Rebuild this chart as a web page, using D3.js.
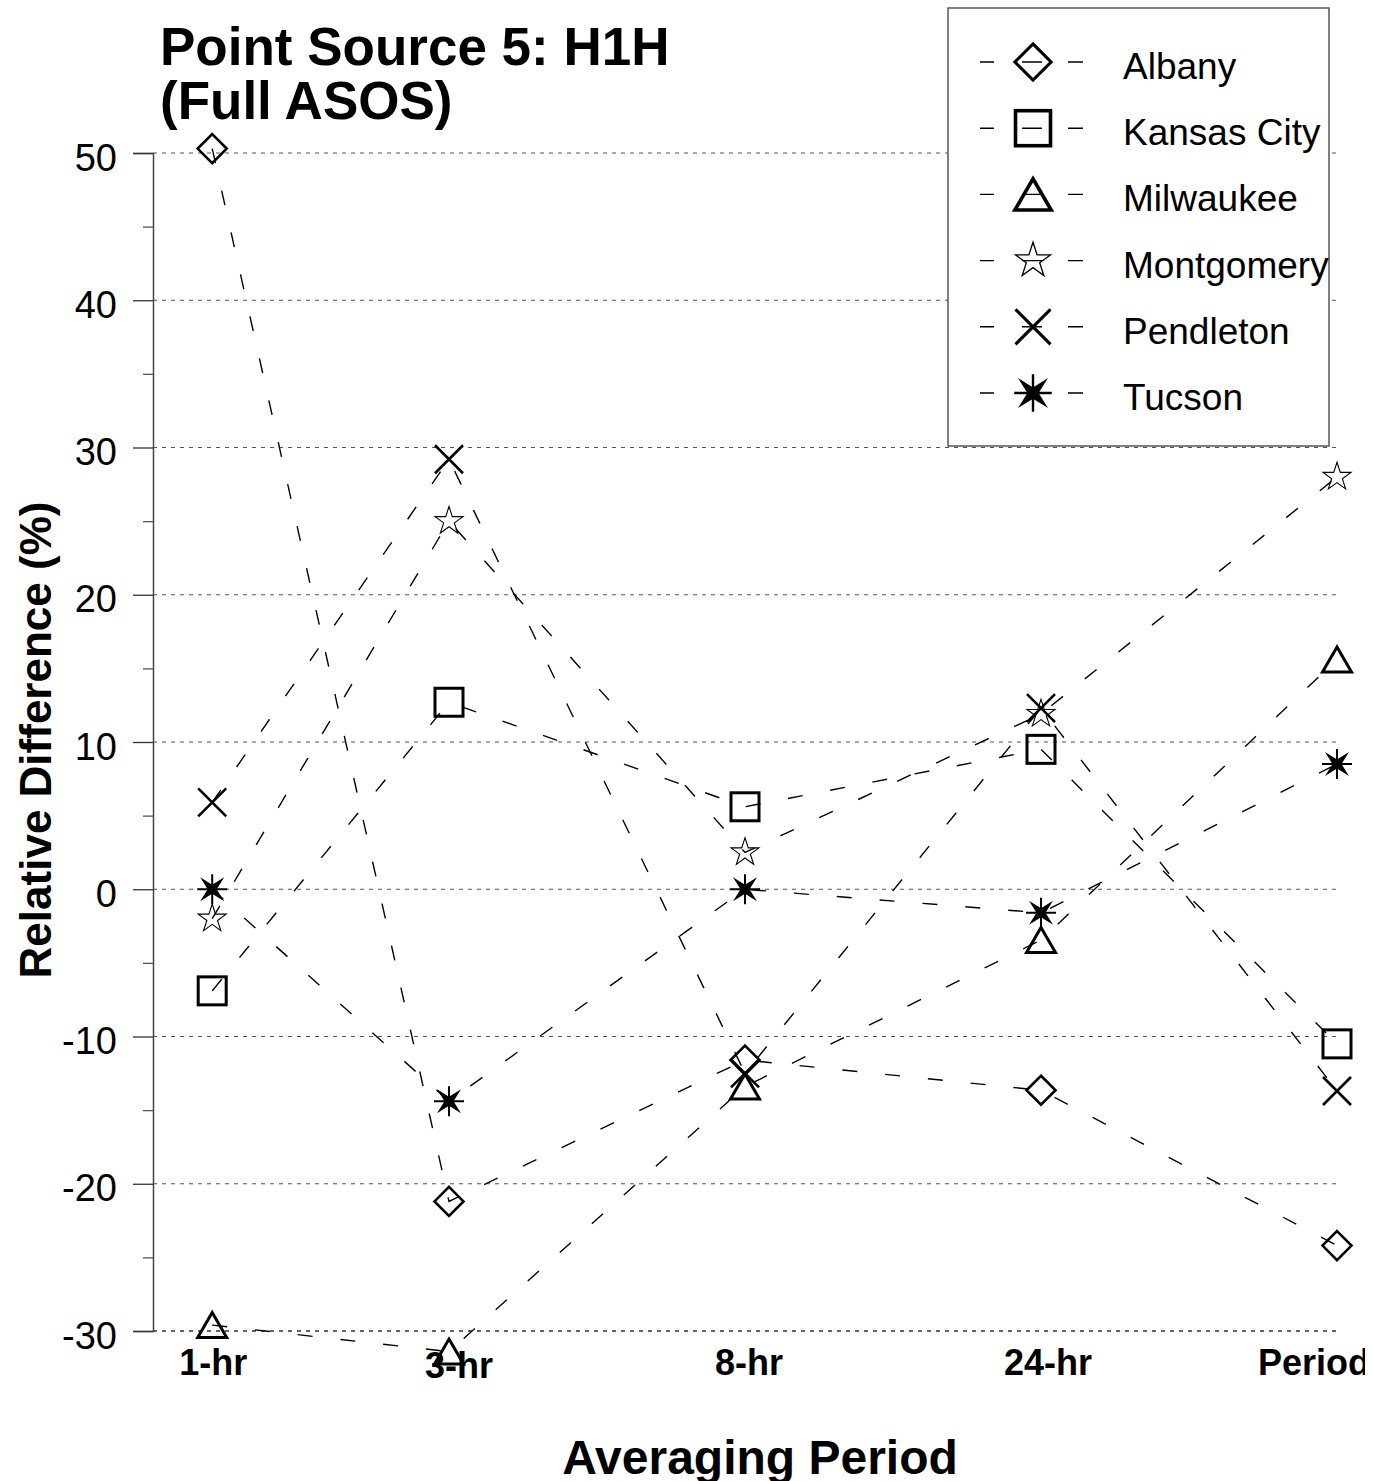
<!DOCTYPE html>
<html>
<head>
<meta charset="utf-8">
<script src="https://cdn.jsdelivr.net/npm/d3@7"></script>
<style>
  body { margin: 0; background: #fff; }
  svg { display: block; font-family: "Liberation Sans", Arial, sans-serif; }
</style>
</head>
<body>
<svg id="chart" width="1365" height="1481"></svg>
<script>
// data
var periods = ["1-hr", "3-hr", "8-hr", "24-hr", "Period"];
var periodPos = [0.2, 1, 2, 3, 4];
var stations = ["Albany", "Kansas City", "Milwaukee", "Montgomery", "Pendleton", "Tucson"];
var albany     = [50.3, -21.2, -11.6, -13.65, -24.2];
var kansasCity = [-6.9, 12.7, 5.6, 9.5, -10.5];
var milwaukee  = [-29.6, -31.4, -13.4, -3.45, 15.6];
var montgomery = [-2.0, 25.0, 2.5, 11.9, 28.0];
var pendleton  = [5.9, 29.2, -12.5, 12.3, -13.7];
var tucson     = [0, -14.4, 0, -1.6, 8.5];
var yTicks = [50, 40, 30, 20, 10, 0, -10, -20, -30];
var yMinor = [45, 35, 25, 15, 5, -5, -15, -25];

var series = [
  {name: stations[0], values: albany, shape: "diamond"},
  {name: stations[1], values: kansasCity, shape: "square"},
  {name: stations[2], values: milwaukee, shape: "triangle"},
  {name: stations[3], values: montgomery, shape: "star"},
  {name: stations[4], values: pendleton, shape: "cross"},
  {name: stations[5], values: tucson, shape: "burst"}
];

var svg = d3.select("#chart");
var margin = {left: 153, right: 1337, top: 153, bottom: 1331};

var x = d3.scaleLinear().domain([0, 4]).range([margin.left, margin.right]);
var y = d3.scaleLinear().domain([-30, 50]).range([margin.bottom, margin.top]);

// grid
svg.append("g")
  .selectAll("line")
  .data(yTicks)
  .join("line")
    .attr("x1", margin.left).attr("x2", 1336)
    .attr("y1", d => y(d)).attr("y2", d => y(d))
    .attr("stroke", d => d == -30 ? "#333" : "#555")
    .attr("stroke-width", d => d == -30 ? 1.6 : 1.1)
    .attr("stroke-dasharray", "4,5");

// y axis
var yAxis = svg.append("g")
  .attr("transform", "translate(" + margin.left + ",0)")
  .call(d3.axisLeft(y).tickValues(yTicks).tickSize(20).tickPadding(16).tickFormat(d => String(d)));
yAxis.select(".domain").attr("stroke", "#444").attr("stroke-width", 1.5);
yAxis.selectAll(".tick line").attr("stroke", "#333").attr("stroke-width", 1.3);
yAxis.selectAll("text")
  .attr("font-size", 38)
  .attr("font-family", "Liberation Sans, Arial, sans-serif")
  .attr("fill", "#000")
  .attr("dy", "0.45em");

svg.append("g")
  .attr("transform", "translate(" + margin.left + ",0)")
  .call(d3.axisLeft(y).tickValues(yMinor).tickSize(10).tickFormat(""))
  .call(g => g.select(".domain").remove())
  .selectAll(".tick line").attr("stroke", "#555").attr("stroke-width", 1.3);

// x labels
var labelDx = [1, 10, 4, 7, -23];
var labelDy = [0, 3, 0, 0, 0];
svg.append("g")
  .selectAll("text")
  .data(periods)
  .join("text")
    .attr("x", (d, i) => x(periodPos[i]) + labelDx[i])
    .attr("y", (d, i) => 1375 + labelDy[i])
    .attr("text-anchor", "middle")
    .attr("font-size", 36)
    .attr("font-weight", "bold")
    .text(d => d);

// titles
svg.append("text")
  .attr("x", 160).attr("y", 65)
  .attr("font-size", 53).attr("font-weight", "bold")
  .text("Point Source 5: H1H");
svg.append("text")
  .attr("x", 160).attr("y", 119)
  .attr("font-size", 53).attr("font-weight", "bold")
  .text("(Full ASOS)");

svg.append("text")
  .attr("transform", "translate(51,740) rotate(-90)")
  .attr("text-anchor", "middle")
  .attr("font-size", 44).attr("font-weight", "bold")
  .text("Relative Difference (%)");

svg.append("text")
  .attr("x", 760).attr("y", 1474)
  .attr("text-anchor", "middle")
  .attr("font-size", 48).attr("font-weight", "bold")
  .text("Averaging Period");

// marker shapes, k scales the size, sw the stroke
function marker(g, shape, k, sw) {
  if (shape == "diamond") {
    var r = 14.5 * k;
    g.append("path")
      .attr("d", "M0," + (-r) + "L" + r + ",0L0," + r + "L" + (-r) + ",0Z")
      .attr("fill", "none").attr("stroke", "#000").attr("stroke-width", 2.6 * sw);
  } else if (shape == "square") {
    var s = 14 * k;
    g.append("rect")
      .attr("x", -s).attr("y", -s).attr("width", 2 * s).attr("height", 2 * s)
      .attr("fill", "none").attr("stroke", "#000").attr("stroke-width", 3 * sw);
  } else if (shape == "triangle") {
    var w = 14.5 * k, h = 12.5 * k;
    g.append("path")
      .attr("d", "M0," + (-h) + "L" + w + "," + h + "L" + (-w) + "," + h + "Z")
      .attr("fill", "none").attr("stroke", "#000").attr("stroke-width", 3 * sw);
  } else if (shape == "star") {
    var R = 14.7 * k, ri = R * 0.382, pts = [];
    for (var i = 0; i < 10; i++) {
      var a = -Math.PI / 2 + i * Math.PI / 5, rr = i % 2 ? ri : R;
      pts.push([rr * Math.cos(a), rr * Math.sin(a)]);
    }
    g.append("path")
      .attr("d", "M" + pts.join("L") + "Z")
      .attr("fill", "none").attr("stroke", "#000").attr("stroke-width", 1.1 * sw);
  } else if (shape == "cross") {
    var c = 14 * k;
    g.append("path")
      .attr("d", "M" + (-c) + "," + (-c) + "L" + c + "," + c + "M" + (-c) + "," + c + "L" + c + "," + (-c))
      .attr("stroke", "#000").attr("stroke-width", 2.6 * sw);
  } else if (shape == "burst") {
    var L = 15 * k, o = 12 * k, inr = 4.5 * k, pts2 = [];
    for (var j = 0; j < 8; j++) {
      var b = -Math.PI / 4 + j * Math.PI / 4;
      var rad = j % 2 ? inr : o * Math.SQRT2;
      pts2.push([rad * Math.cos(b), rad * Math.sin(b)]);
    }
    g.append("path").attr("d", "M" + pts2.join("L") + "Z").attr("fill", "#000");
    g.append("path")
      .attr("d", "M" + (-L) + ",0L" + L + ",0M0," + (-L) + "L0," + L)
      .attr("stroke", "#000").attr("stroke-width", 2 * sw);
  }
}

// series lines
var line = d3.line()
  .x((d, i) => x(periodPos[i]))
  .y(d => y(d));

svg.append("g")
  .selectAll("path")
  .data(series)
  .join("path")
    .attr("d", d => line(d.values))
    .attr("fill", "none")
    .attr("stroke", "#000")
    .attr("stroke-width", 1.4)
    .attr("stroke-dasharray", "15,28");

// markers
series.forEach(function(s) {
  s.values.forEach(function(v, i) {
    var g = svg.append("g")
      .attr("transform", "translate(" + x(periodPos[i]) + "," + y(v) + ")");
    marker(g, s.shape, 1, 1);
  });
});

// legend
var legend = svg.append("g");
legend.append("rect")
  .attr("x", 948).attr("y", 8).attr("width", 381).attr("height", 438)
  .attr("fill", "#fff").attr("stroke", "#555").attr("stroke-width", 1.5);

series.forEach(function(s, i) {
  var cy = 62 + i * 66.2;
  legend.append("line")
    .attr("x1", 980).attr("x2", 1083).attr("y1", cy).attr("y2", cy)
    .attr("stroke", "#000").attr("stroke-width", 1.4)
    .attr("stroke-dasharray", "14,28,20,26,15");
  var g = legend.append("g").attr("transform", "translate(1033," + cy + ")");
  marker(g, s.shape, 1.25, 1.2);
  legend.append("text")
    .attr("x", 1123).attr("y", cy + 17)
    .attr("font-size", 37)
    .text(s.name);
});
</script>
</body>
</html>
